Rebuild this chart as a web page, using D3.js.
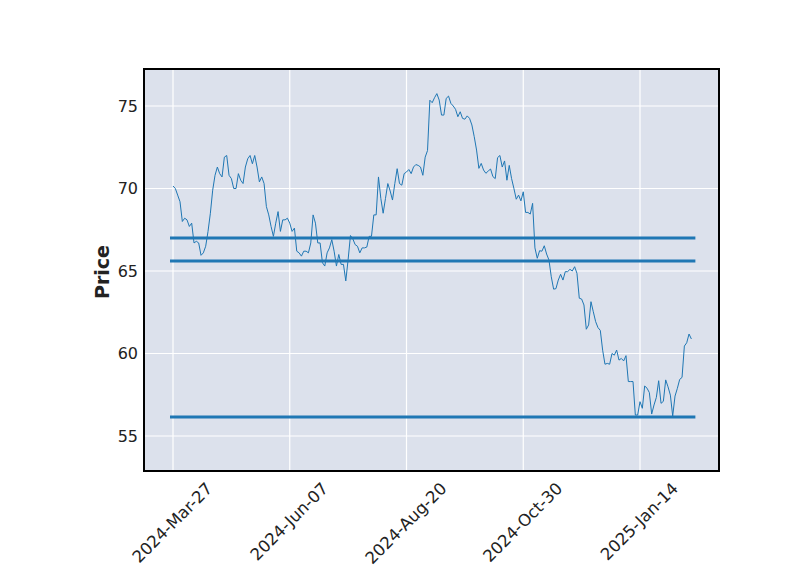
<!DOCTYPE html>
<html><head><meta charset="utf-8">
<script src="https://cdn.jsdelivr.net/npm/d3@7"></script>
<style>body{margin:0;background:#fff} svg{display:block}</style>
</head><body>
<svg id="c" width="800" height="575"></svg>
<script>
const closes = [
70.15,70.0,69.6,69.2,68.0,68.2,68.1,67.7,67.9,66.7,
66.8,66.7,65.95,66.1,66.5,67.4,68.5,69.9,70.8,71.3,
70.9,70.7,71.9,72.0,70.8,70.6,70.0,70.0,70.9,70.5,
70.3,71.3,71.8,72.0,71.5,72.0,71.3,70.4,70.7,70.3,
68.9,68.4,67.7,67.1,67.9,68.6,67.4,68.1,68.1,68.2,
67.9,67.4,67.6,66.2,66.1,65.9,66.2,66.2,66.1,66.7,
68.4,67.9,66.7,66.7,65.5,65.3,66.1,66.4,66.9,66.2,
65.3,66.0,65.4,65.4,64.4,65.7,67.15,66.95,66.6,66.5,
66.1,66.4,66.4,66.45,67.1,67.1,68.4,68.4,70.7,69.4,
68.5,69.4,70.3,69.85,69.3,70.3,71.2,70.3,70.2,70.9,
71.0,71.15,70.9,71.3,71.45,71.4,71.3,70.8,71.9,72.3,
75.35,75.2,75.5,75.75,75.36,74.45,74.45,75.46,75.6,75.16,
75.0,74.8,74.35,74.65,74.25,74.2,74.4,74.25,73.85,73.14,
72.33,71.22,71.52,71.12,70.92,71.06,71.18,70.72,70.6,71.87,
72.0,71.3,71.67,70.5,71.4,70.6,70.0,69.35,69.6,69.25,
69.8,68.55,68.55,68.45,69.1,66.4,65.77,66.23,66.2,66.53,
66.03,65.67,64.65,63.9,63.93,64.45,64.8,64.45,64.96,64.96,
65.1,65.0,65.26,64.86,63.35,63.3,62.94,61.47,61.73,63.14,
62.53,61.93,61.57,61.4,60.2,59.35,59.4,59.35,60.0,59.9,
60.21,59.6,59.7,59.55,59.87,58.3,58.3,58.3,56.27,56.27,
57.08,56.68,58.03,57.9,57.63,56.33,56.88,57.34,58.35,56.98,
57.1,58.4,57.98,57.48,56.21,57.42,57.89,58.43,58.55,60.45,
60.65,61.18,60.88
];
const hlineLevels = [67.0, 65.6, 56.15];
const tickIndex = [0, 50, 100, 150, 200];
const tickLabels = ["2024-Mar-27", "2024-Jun-07", "2024-Aug-20", "2024-Oct-30", "2025-Jan-14"];
const yTicks = [55, 60, 65, 70, 75];

const m = {l:144, r:719, t:69, b:471};
const svg = d3.select("#c");
const x = d3.scaleLinear().domain([-12.42, 233.83]).range([m.l, m.r]);
const y = d3.scaleLinear().domain([52.879, 77.242]).range([m.b, m.t]);

const FONT = "DejaVu Sans, sans-serif";
const bg = "#dce1ec";
const lineColor = "#1f77b4";
const textColor = "#222";

svg.append("rect").attr("x", m.l).attr("y", m.t).attr("width", m.r - m.l).attr("height", m.b - m.t).attr("fill", bg);

// grid
const g = svg.append("g");
g.selectAll("line.gy").data(yTicks).enter().append("line")
  .attr("x1", m.l).attr("x2", m.r).attr("y1", d => y(d)).attr("y2", d => y(d))
  .attr("stroke", "#fff").attr("stroke-width", 1.2);
g.selectAll("line.gx").data(tickIndex).enter().append("line")
  .attr("y1", m.t).attr("y2", m.b).attr("x1", d => x(d)).attr("x2", d => x(d))
  .attr("stroke", "#fff").attr("stroke-width", 1.2);

// horizontal levels
const x0 = x(0), x1 = x(closes.length - 1);
svg.selectAll("line.hl").data(hlineLevels).enter().append("line")
  .attr("x1", x0 - 3).attr("x2", x1 + 4)
  .attr("y1", d => y(d)).attr("y2", d => y(d))
  .attr("stroke", lineColor).attr("stroke-width", 3);

// price line
const line = d3.line().x((d, i) => x(i)).y(d => y(d));
svg.append("path").datum(closes).attr("d", line)
  .attr("fill", "none").attr("stroke", lineColor).attr("stroke-width", 1).attr("stroke-linejoin", "round");

// frame
svg.append("rect").attr("x", m.l).attr("y", m.t).attr("width", m.r - m.l).attr("height", m.b - m.t)
  .attr("fill", "none").attr("stroke", "#000").attr("stroke-width", 2);

// y axis labels
const yAxis = d3.axisLeft(y).tickValues(yTicks).tickSize(0).tickPadding(6);
const ya = svg.append("g").attr("transform", `translate(${m.l},0)`).call(yAxis);
ya.select(".domain").remove();
ya.selectAll("text").attr("font-family", FONT).attr("font-size", 16).attr("fill", textColor);

// x axis labels
const xAxis = d3.axisBottom(x).tickValues(tickIndex).tickFormat((d, i) => tickLabels[i]).tickSize(0).tickPadding(0);
const xa = svg.append("g").attr("transform", `translate(0,${m.b})`).call(xAxis);
xa.select(".domain").remove();
xa.selectAll("text")
  .attr("font-family", FONT).attr("font-size", 16.5).attr("fill", textColor)
  .attr("text-anchor", "end").attr("dy", "0.35em").attr("y", 0)
  .attr("transform", "rotate(-45)");
// align rotated labels: bbox centered on tick, top at fixed offset
xa.selectAll(".tick").each(function(d) {
  const t = d3.select(this).select("text");
  const r = t.node().getBoundingClientRect();
  const tx = x(d);
  const cx = (r.left + r.right) / 2;
  const dx = tx - cx;
  const dy = (m.b + 8) - r.top;
  d3.select(this).attr("transform", `translate(${tx + dx},${dy})`);
});

// y label
svg.append("text").attr("transform", `translate(109,${(m.t + m.b) / 2 + 2}) rotate(-90)`)
  .attr("text-anchor", "middle").attr("font-family", FONT).attr("font-weight", "bold")
  .attr("font-size", 19).attr("fill", textColor).text("Price");
</script>
</body></html>
